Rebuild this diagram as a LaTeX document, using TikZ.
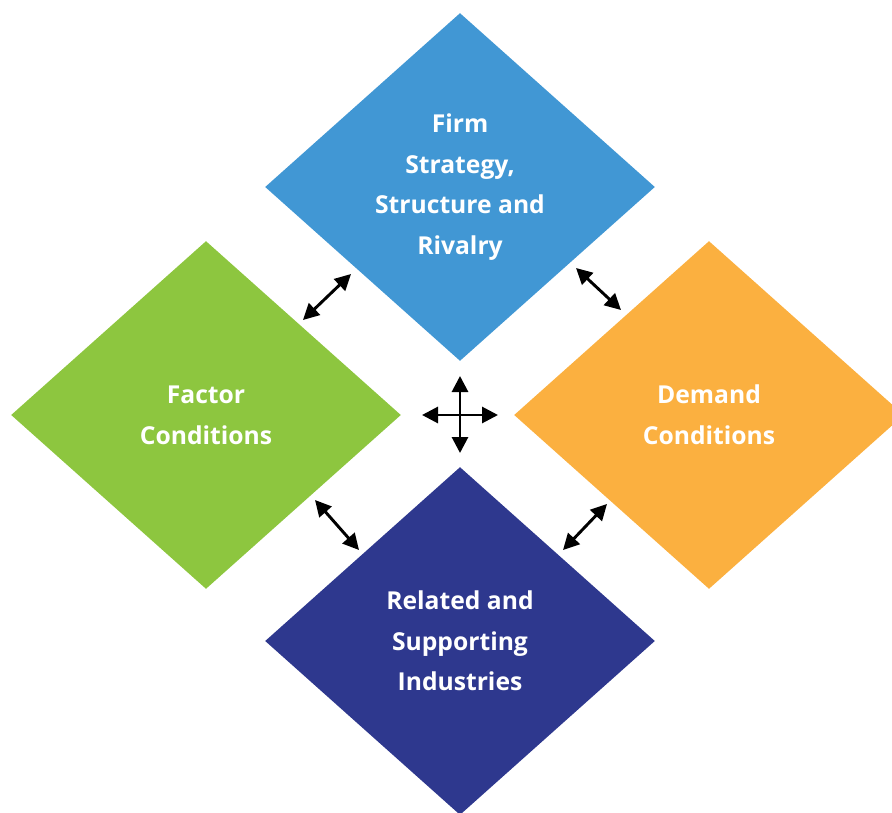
\documentclass[tikz,border=0pt]{standalone}
\usepackage{fontspec}
\setmainfont{Open Sans}
\usetikzlibrary{shapes.geometric,arrows.meta}

\definecolor{firmblue}{HTML}{4197D4}
\definecolor{factorgreen}{HTML}{8DC63F}
\definecolor{demandorange}{HTML}{FBB040}
\definecolor{relatednavy}{HTML}{2E388E}

\tikzset{every picture/.style={line width=0.75pt}}
\tikzset{
  block/.style={diamond, inner sep=0pt, minimum width=292.5pt, minimum height=261pt,
    text=white, font=\fontsize{18.5}{30.5}\selectfont\bfseries, align=center},
  link/.style={line width=2.2pt, {Triangle[length=12pt,width=12pt]}-{Triangle[length=12pt,width=12pt]}}
}

\begin{document}
\begin{tikzpicture}[x=0.75pt,y=0.75pt,yscale=-1,xscale=1]
		\useasboundingbox (0,0) rectangle (892,813);
		\begin{scope}
		\clip (0,0) rectangle (892,813);
		
		%Shape: Diamonds
		\node [block, fill=firmblue]     (firm)    at (460,187) {Firm\\Strategy,\\Structure and\\Rivalry};
		\node [block, fill=factorgreen]  (factor)  at (206,415) {Factor\\Conditions};
		\node [block, fill=demandorange] (demand)  at (709,415) {Demand\\Conditions};
		\node [block, fill=relatednavy]  (related) at (460,641) {Related and\\Supporting\\Industries};
		\end{scope}
		
		%arrow ends
		\coordinate (fl1) at (303,320);  \coordinate (fl2) at (351,274);
		\coordinate (fr1) at (576,268);  \coordinate (fr2) at (621,310);
		\coordinate (rl1) at (315,500);  \coordinate (rl2) at (359,550);
		\coordinate (rr1) at (607,504);  \coordinate (rr2) at (563,550);
		\coordinate (hubw) at (422,415); \coordinate (hube) at (498,415);
		\coordinate (hubn) at (460,376); \coordinate (hubs) at (460,453);
		
		\draw [link] (fl1) -- (fl2);
		\draw [link] (fr1) -- (fr2);
		\draw [link] (rl1) -- (rl2);
		\draw [link] (rr1) -- (rr2);
		
		%centre cross
		\draw [link] (hubw) -- (hube);
		\draw [link] (hubn) -- (hubs);
		
\end{tikzpicture}
\end{document}
